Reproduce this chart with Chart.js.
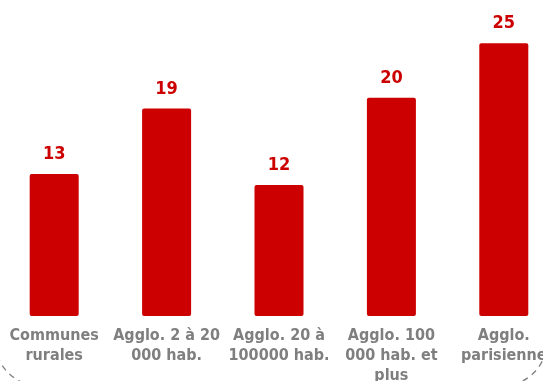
<!DOCTYPE html>
<html>
<head>
<meta charset="utf-8">
<script src="https://cdn.jsdelivr.net/npm/chart.js@4/dist/chart.umd.min.js"></script>
<style>
  html, body { margin: 0; padding: 0; background: #ffffff; overflow: hidden; }
  #wrap { position: absolute; left: -2px; top: 0; width: 562px; height: 388px; }
</style>
</head>
<body>
<div id="wrap"><canvas id="chart"></canvas></div>
<script>
// Share by type of municipality (%)
const categories = [
  ['Communes', 'rurales'],
  ['Agglo. 2 à 20', '000 hab.'],
  ['Agglo. 20 à', '100000 hab.'],
  ['Agglo. 100', '000 hab. et', 'plus'],
  ['Agglo.', 'parisienne']
];
const values = [13, 19, 12, 20, 25];

const RED = '#cc0000';
const GREY = '#7f7f7f';
const FONT = '"DejaVu Sans Condensed", "DejaVu Sans", Verdana, sans-serif';

// Value labels above each bar
const valueLabels = {
  id: 'valueLabels',
  afterDatasetsDraw(chart) {
    const ctx = chart.ctx;
    const meta = chart.getDatasetMeta(0);
    ctx.save();
    ctx.fillStyle = RED;
    ctx.font = 'bold 18px ' + FONT;
    ctx.textAlign = 'center';
    ctx.textBaseline = 'alphabetic';
    meta.data.forEach((bar, i) => {
      ctx.fillText(String(values[i]), bar.x, bar.y - 15);
    });
    ctx.restore();
  }
};

// Dashed rounded frame whose bottom corners show at the edge
const frame = {
  id: 'frame',
  beforeDraw(chart) {
    const ctx = chart.ctx;
    const x0 = -3, x1 = chart.width - 13, y0 = -40, y1 = 386, r = 45;
    ctx.save();
    ctx.strokeStyle = '#7f7f7f';
    ctx.lineWidth = 1.3;
    ctx.setLineDash([6, 5]);
    ctx.beginPath();
    ctx.moveTo(x0, y0);
    ctx.lineTo(x0, y1 - r);
    ctx.arcTo(x0, y1, x0 + r, y1, r);
    ctx.lineTo(x1 - r, y1);
    ctx.arcTo(x1, y1, x1, y1 - r, r);
    ctx.lineTo(x1, y0);
    ctx.stroke();
    ctx.restore();
  }
};

new Chart(document.getElementById('chart'), {
  type: 'bar',
  data: {
    labels: categories,
    datasets: [{
      data: values,
      backgroundColor: RED,
      borderRadius: 2,
      borderSkipped: false,
      barPercentage: 0.436,
      categoryPercentage: 1
    }]
  },
  options: {
    responsive: true,
    maintainAspectRatio: false,
    animation: false,
    devicePixelRatio: 1,
    layout: { padding: { top: 0, left: 0, right: 0, bottom: 0 } },
    plugins: { legend: { display: false }, tooltip: { enabled: false } },
    scales: {
      x: {
        grid: { display: false },
        border: { display: false },
        ticks: {
          color: GREY,
          font: { family: FONT, size: 16, weight: 'bold', lineHeight: 1.25 },
          padding: 2,
          maxRotation: 0,
          autoSkip: false
        }
      },
      y: {
        display: false,
        min: 0,
        max: 25 * 315 / 272
      }
    }
  },
  plugins: [frame, valueLabels]
});
</script>
</body>
</html>
